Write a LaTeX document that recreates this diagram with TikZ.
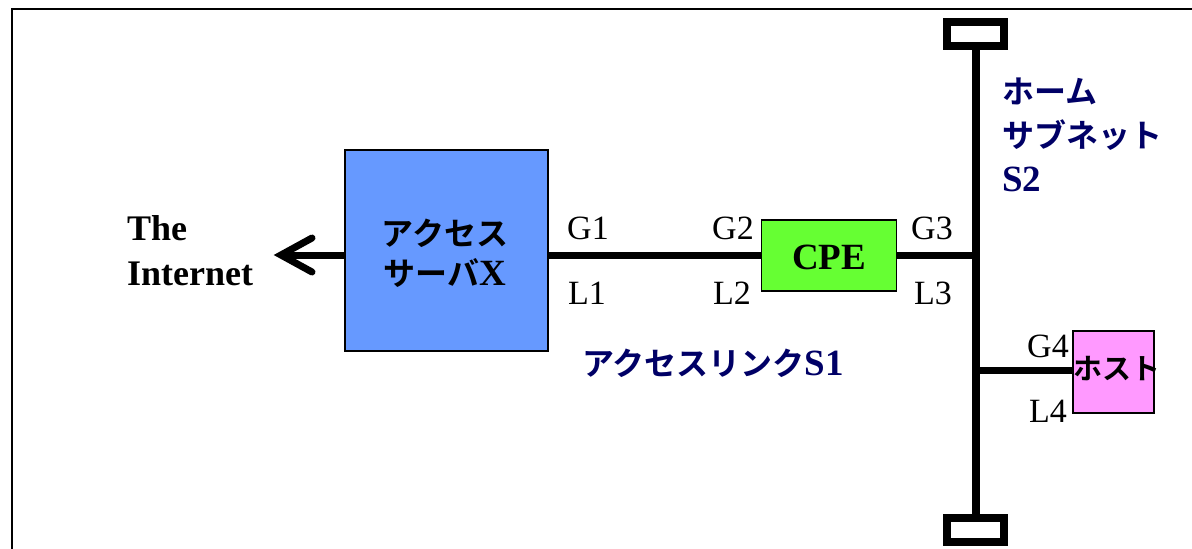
\documentclass[tikz,border=0pt]{standalone}
\usepackage{fontspec}
\setmainfont{Liberation Serif}
\newfontfamily\jp{Noto Sans CJK JP}[BoldFont={* Bold}]
\newcommand{\latbig}[1]{{\fontsize{37}{44}\selectfont #1}}
\usetikzlibrary{calc}
\definecolor{serverblue}{HTML}{6699FF}
\definecolor{cpegreen}{HTML}{66FF33}
\definecolor{hostpink}{HTML}{FF99FF}
\definecolor{navy}{HTML}{000066}
\tikzset{
  box/.style={draw=black, line width=1.5pt, inner sep=0pt},
  wire/.style={line width=7pt},
  term/.style={draw=black, line width=8pt},
  lbl/.style={font=\fontsize{34}{36}\selectfont, inner sep=0pt},
  navytext/.style={text=navy, font=\fontsize{32}{44}\selectfont\bfseries, inner sep=0pt},
}
\begin{document}
\begin{tikzpicture}[x=1pt,y=-1pt]
\useasboundingbox (0,0) rectangle (1192,549);
% frame
\draw[line width=2pt] (12,549) -- (12,9) -- (1192,9);
% boxes
\node[box, fill=serverblue, minimum width=203pt, minimum height=201pt] (server) at (446.5,250.5) {};
\node[font=\fontsize{32}{40}\selectfont\bfseries, align=center, inner sep=0pt] (servertxt) at (445,253) {\jp アクセス\\{\jp サーバ}\latbig{X}};
\node[box, fill=cpegreen, minimum width=135pt, minimum height=71pt] (cpe) at (829,255.5) {};
\node[font=\fontsize{37}{40}\selectfont\bfseries, inner sep=0pt] (cpetxt) at (829,257) {CPE};
\node[box, fill=hostpink, minimum width=81pt, minimum height=82pt] (host) at (1113.5,372) {};
% bus
\coordinate (bustop) at (976,46);
\coordinate (busbot) at (976,518);
\coordinate (busmid) at (976,255);
\coordinate (bushost) at (976,370);
\draw[line width=7.5pt] (bustop) -- (busbot);
\node[term, minimum width=57pt, minimum height=24pt, inner sep=0pt] (termtop) at (975.5,34) {};
\node[term, minimum width=57pt, minimum height=24pt, inner sep=0pt] (termbot) at (975.5,530) {};
% wires
\draw[wire] (server.east |- busmid) -- (cpe.west |- busmid);
\draw[wire] (cpe.east |- busmid) -- (busmid);
\draw[wire] (bushost) -- (host.west |- bushost);
% host text over box
\node[font=\fontsize{29}{30}\selectfont\bfseries, inner sep=0pt] (hosttxt) at (1117,369) {\jp ホスト};
% arrow to internet
\coordinate (tip) at (281,255);
\draw[wire] (server.west |- tip) -- ($(tip)+(6,0)$);
\draw[line width=7pt, line cap=round, miter limit=10] ($(tip)+(31,-17)$) -- (tip) -- ($(tip)+(31,17)$);
% labels
\node[font=\fontsize{36}{45}\selectfont\bfseries, align=left, inner sep=0pt, anchor=west] (inet) at (127,251) {The\\Internet};
\node[lbl] (g1) at (588,228) {G1};
\node[lbl] (l1) at (587,293) {L1};
\node[lbl] (g2) at (733,228) {G2};
\node[lbl] (l2) at (732,293) {L2};
\node[lbl] (g3) at (932,228) {G3};
\node[lbl] (l3) at (933,293) {L3};
\node[lbl] (g4) at (1048,346) {G4};
\node[lbl] (l4) at (1048,411) {L4};
% navy texts
\node[navytext, align=left, anchor=north west] (s2) at (1002,78) {\jp ホーム\\{\jp サブネット}\\\latbig{S2}};
\node[navytext] (s1) at (713,363) {{\jp アクセスリンク}\latbig{S1}};
\end{tikzpicture}
\end{document}
